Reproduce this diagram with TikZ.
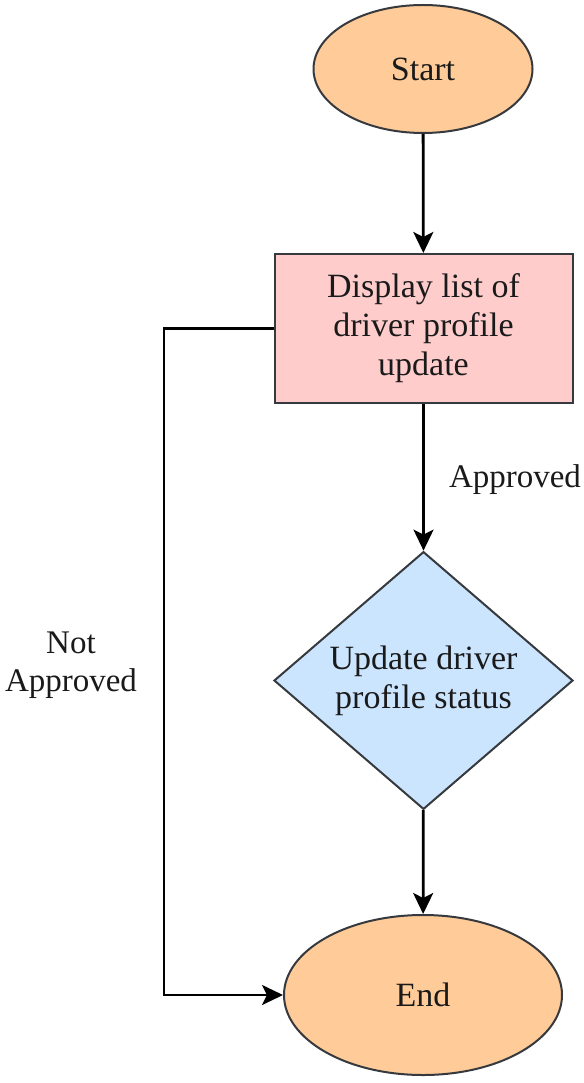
\documentclass[tikz,border=0pt]{standalone}
\usepackage{fontspec}
\setmainfont{Liberation Serif}
\usetikzlibrary{shapes.geometric,arrows.meta}

\definecolor{termfill}{HTML}{FFCC99}
\definecolor{procfill}{HTML}{FFCCCC}
\definecolor{decfill}{HTML}{CCE5FF}
\definecolor{edge}{HTML}{36393D}
\definecolor{ink}{HTML}{1A1A1A}

\tikzset{
  base/.style={draw=edge, line width=2pt, text=ink, align=center,
    font=\fontsize{34}{39}\selectfont, inner sep=0pt},
  terminal/.style={base, ellipse, fill=termfill},
  process/.style={base, rectangle, fill=procfill,
    minimum width=298pt, minimum height=149pt},
  decision/.style={base, diamond, fill=decfill,
    minimum width=299pt, minimum height=257pt},
  flow/.style={line width=2.8pt, draw=black,
    -{Stealth[length=21pt,width=20pt,inset=5pt]}},
  lbl/.style={text=ink, align=center, font=\fontsize{33}{38}\selectfont}
}

\begin{document}
\begin{tikzpicture}[x=1pt, y=-1pt]
  \useasboundingbox (0,0) rectangle (583,1083);

  \node[terminal, minimum width=219pt, minimum height=128pt] (start) at (423,69) {Start};
  \node[process] (show) at (423.5,328.5) {Display list of\\driver profile\\update};
  \node[decision] (upd) at (423.5,680.5) {Update driver\\profile status};
  \node[terminal, minimum width=278pt, minimum height=160pt] (end) at (423,995) {End};

  \coordinate (bend) at (164,328.5);

  \draw[flow] (start) -- (show);
  \draw[flow] (show) -- (upd);
  \draw[flow] (upd) -- (end);
  \draw[flow] (show.west) -- (bend) |- (end.west);

  \node[lbl] (ok) at (515,480) {Approved};
  \node[lbl] (notok) at (71,665) {Not\\Approved};
\end{tikzpicture}
\end{document}
